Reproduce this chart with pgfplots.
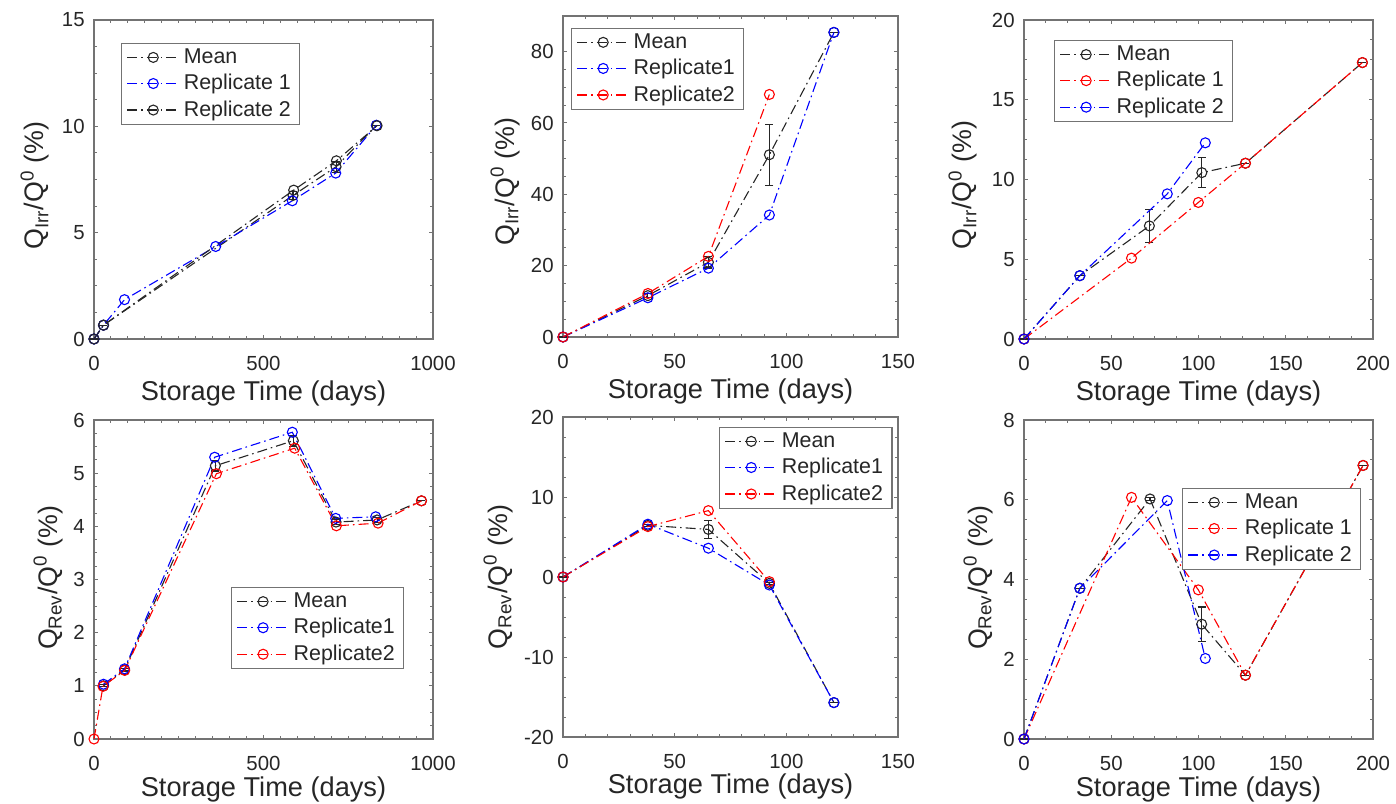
\documentclass[border=0pt]{standalone}
\usepackage{pgfplots}
\pgfplotsset{compat=1.18}
\usepackage{fontspec}
\setmainfont{Liberation Sans}
\newfontfamily\ylabfont{Liberation Sans}
\definecolor{axgray}{gray}{0.45}
\definecolor{txt}{gray}{0.15}
\pgfplotsset{
  base/.style={scale only axis, anchor=south west, clip=false,
    axis line style={axgray, line width=0.6pt},
    tick style={axgray, line width=0.5pt},
    major tick length=2.2pt, minor tick length=1.3pt,
    tick align=inside, xtick pos=both, ytick pos=both,
    tick label style={font=\fontsize{10.2}{12}\selectfont, text=txt},
    xticklabel style={anchor=north, inner sep=0pt, yshift=-8.2pt},
    yticklabel style={anchor=east, inner sep=0pt, xshift=-4.5pt},
    xlabel={Storage Time (days)},
    xlabel style={at={(axis description cs:0.5,0)}, anchor=north, yshift=-20.8pt, inner sep=0pt, font=\fontsize{13.6}{16}\selectfont, text=txt},
    ylabel style={anchor=south, inner sep=0pt, font=\ylabfont\fontsize{13.4}{16}\selectfont, text=txt},
    legend cell align=left,
    legend style={anchor=north west, draw=axgray, line width=0.6pt, fill=white, font=\fontsize{10.7}{12.5}\selectfont, text=txt, inner xsep=2.5pt, inner ysep=0.5pt, row sep=0pt},
    legend image code/.code={\draw[mark repeat=2,mark phase=2,##1] plot coordinates {(0pt,0pt) (13pt,0pt) (26pt,0pt)};},
  },
  s/.style={line width=0.55pt, dash pattern=on 5pt off 2pt on 0.8pt off 2pt, mark=o, mark size=2.5pt, mark options={solid, line width=0.55pt}},
  sk/.style={s, color=black!85},
  sb/.style={s, color=blue},
  sr/.style={s, color=red},
  merr/.style={error bars/.cd, y dir=both, y explicit, error bar style={solid, line width=0.55pt}, error mark options={solid, rotate=90, mark size=2pt, line width=0.55pt}},
}
\begin{document}
\begin{tikzpicture}
\useasboundingbox (0pt,0pt) rectangle (698pt,401.5pt);
% ---------- Panel 1 ----------
\begin{axis}[base, at={(47pt,232pt)}, width=169.5pt, height=159.5pt,
  xmin=0, xmax=1000, ymin=0, ymax=15,
  xtick={0,500,1000}, xticklabels={0,500,1000},
  ytick={0,5,10,15}, yticklabels={0,5,10,15},
  minor x tick num=9, minor y tick num=3,
  ylabel={Q\textsubscript{Irr}/Q\textsuperscript{0} (\%)},
  ylabel style={at={(axis description cs:-0.130,0.481)}},
  legend style={at={(0.080,0.928)}}]
\addplot[sk, merr] coordinates {(0,0) +- (0,0) (28,0.65) +- (0,0) (587,6.75) +- (0,0.2) (714,8.1) +- (0,0.25) (833,10.04) +- (0,0)};
\addlegendentry{Mean}
\addplot[sb] coordinates {(0,0) (28,0.65) (90,1.85) (359,4.35) (585,6.5) (713,7.8) (833,10.05)};
\addlegendentry{Replicate 1}
\addplot[sk] coordinates {(0,0) (28,0.65) (589,7.0) (715,8.38) (835,10.03)};
\addlegendentry{Replicate 2}
\end{axis}
% ---------- Panel 2 ----------
\begin{axis}[base, at={(281.5pt,233pt)}, width=167.5pt, height=160.5pt,
  xmin=0, xmax=150, ymin=0, ymax=90,
  xtick={0,50,100,150}, xticklabels={0,50,100,150},
  ytick={0,20,40,60,80}, yticklabels={0,20,40,60,80},
  minor x tick num=4, minor y tick num=3,
  ylabel={Q\textsubscript{Irr}/Q\textsuperscript{0} (\%)},
  ylabel style={at={(axis description cs:-0.128,0.484)}},
  legend style={at={(0.024,0.963)}}]
\addplot[sk, merr] coordinates {(0,0) +- (0,0) (38,11.6) +- (0,0.6) (65.1,20.95) +- (0,1.6) (92.4,51.1) +- (0,8.6) (121.3,85.4) +- (0,0)};
\addlegendentry{Mean}
\addplot[sb] coordinates {(0,0) (38,11.0) (65.1,19.3) (92.4,34.2) (121.3,85.4)};
\addlegendentry{Replicate1}
\addplot[sr] coordinates {(0,0) (38,12.2) (65.1,22.6) (92.4,68.0)};
\addlegendentry{Replicate2}
\end{axis}
% ---------- Panel 3 ----------
\begin{axis}[base, at={(512pt,232pt)}, width=174.5pt, height=159.5pt,
  xmin=0, xmax=200, ymin=0, ymax=20,
  xtick={0,50,100,150,200}, xticklabels={0,50,100,150,200},
  ytick={0,5,10,15,20}, yticklabels={0,5,10,15,20},
  minor x tick num=3, minor y tick num=3,
  ylabel={Q\textsubscript{Irr}/Q\textsuperscript{0} (\%)},
  ylabel style={at={(axis description cs:-0.132,0.483)}},
  legend style={at={(0.086,0.937)}}]
\addplot[sk, merr] coordinates {(0,0) +- (0,0) (32,3.97) +- (0,0) (71.85,7.09) +- (0,1.03) (101.9,10.43) +- (0,0.95) (126.9,11.02) +- (0,0) (193.9,17.33) +- (0,0)};
\addlegendentry{Mean}
\addplot[sr] coordinates {(0,0) (61.6,5.07) (99.9,8.56) (126.9,11.02) (193.9,17.33)};
\addlegendentry{Replicate 1}
\addplot[sb] coordinates {(0,0) (32,3.97) (82.1,9.1) (103.9,12.3)};
\addlegendentry{Replicate 2}
\end{axis}
% ---------- Panel 4 ----------
\begin{axis}[base, at={(47pt,32pt)}, width=169.5pt, height=159.5pt,
  xmin=0, xmax=1000, ymin=0, ymax=6,
  xtick={0,500,1000}, xticklabels={0,500,1000},
  ytick={0,1,2,3,4,5,6}, yticklabels={0,1,2,3,4,5,6},
  minor x tick num=9, minor y tick num=3,
  ylabel={Q\textsubscript{Rev}/Q\textsuperscript{0} (\%)},
  ylabel style={at={(axis description cs:-0.091,0.505)}},
  xlabel style={yshift=2pt},
  legend style={at={(0.404,0.476)}}]
\addplot[sk, merr] coordinates {(28,1.0) +- (0,0.02) (90,1.3) +- (0,0.02) (358,5.14) +- (0,0.1) (588,5.61) +- (0,0.1) (714,4.08) +- (0,0.05) (835,4.12) +- (0,0.05) (966,4.48) +- (0,0)};
\addlegendentry{Mean}
\addplot[sb] coordinates {(28,1.03) (90,1.32) (356,5.30) (585,5.77) (713,4.15) (831,4.18)};
\addlegendentry{Replicate1}
\addplot[sr] coordinates {(0,0) (26.5,0.99) (90.5,1.29) (361,4.99) (592,5.47) (715,4.01) (838,4.06) (966,4.48)};
\addlegendentry{Replicate2}
\end{axis}
% ---------- Panel 5 ----------
\begin{axis}[base, at={(281.5pt,33pt)}, width=167.5pt, height=160pt,
  xmin=0, xmax=150, ymin=-20, ymax=20,
  xtick={0,50,100,150}, xticklabels={0,50,100,150},
  ytick={-20,-10,0,10,20}, yticklabels={-20,-10,0,10,20},
  minor x tick num=4, minor y tick num=3,
  ylabel={Q\textsubscript{Rev}/Q\textsuperscript{0} (\%)},
  ylabel style={at={(axis description cs:-0.149,0.5)}},
  xlabel style={yshift=2.5pt},
  legend style={at={(0.466,0.969)}}]
\addplot[sk, merr] coordinates {(0,0) +- (0,0) (38,6.45) +- (0,0.15) (65.1,5.95) +- (0,1.1) (92.4,-0.79) +- (0,0.1) (121.3,-15.7) +- (0,0)};
\addlegendentry{Mean}
\addplot[sb] coordinates {(0,0) (38,6.6) (65.1,3.6) (92.4,-1.0) (121.3,-15.7)};
\addlegendentry{Replicate1}
\addplot[sr] coordinates {(0,0) (38,6.3) (65.1,8.3) (92.4,-0.58)};
\addlegendentry{Replicate2}
\end{axis}
% ---------- Panel 6 ----------
\begin{axis}[base, at={(512pt,32pt)}, width=174.5pt, height=159.5pt,
  xmin=0, xmax=200, ymin=0, ymax=8,
  xtick={0,50,100,150,200}, xticklabels={0,50,100,150,200},
  ytick={0,2,4,6,8}, yticklabels={0,2,4,6,8},
  minor x tick num=3, minor y tick num=3,
  ylabel={Q\textsubscript{Rev}/Q\textsuperscript{0} (\%)},
  ylabel style={at={(axis description cs:-0.089,0.505)}},
  xlabel style={yshift=2pt},
  legend style={at={(0.453,0.787)}}]
\addplot[sk, merr] coordinates {(0,0) +- (0,0) (32,3.78) +- (0,0) (72.2,6.02) +- (0,0.04) (101.8,2.88) +- (0,0.43) (126.9,1.60) +- (0,0) (194.3,6.86) +- (0,0)};
\addlegendentry{Mean}
\addplot[sr] coordinates {(0,0) (61.6,6.06) (99.9,3.74) (126.9,1.60) (194.3,6.86)};
\addlegendentry{Replicate 1}
\addplot[sb] coordinates {(0,0) (32,3.78) (82.1,5.98) (103.9,2.02)};
\addlegendentry{Replicate 2}
\end{axis}
\end{tikzpicture}
\end{document}
